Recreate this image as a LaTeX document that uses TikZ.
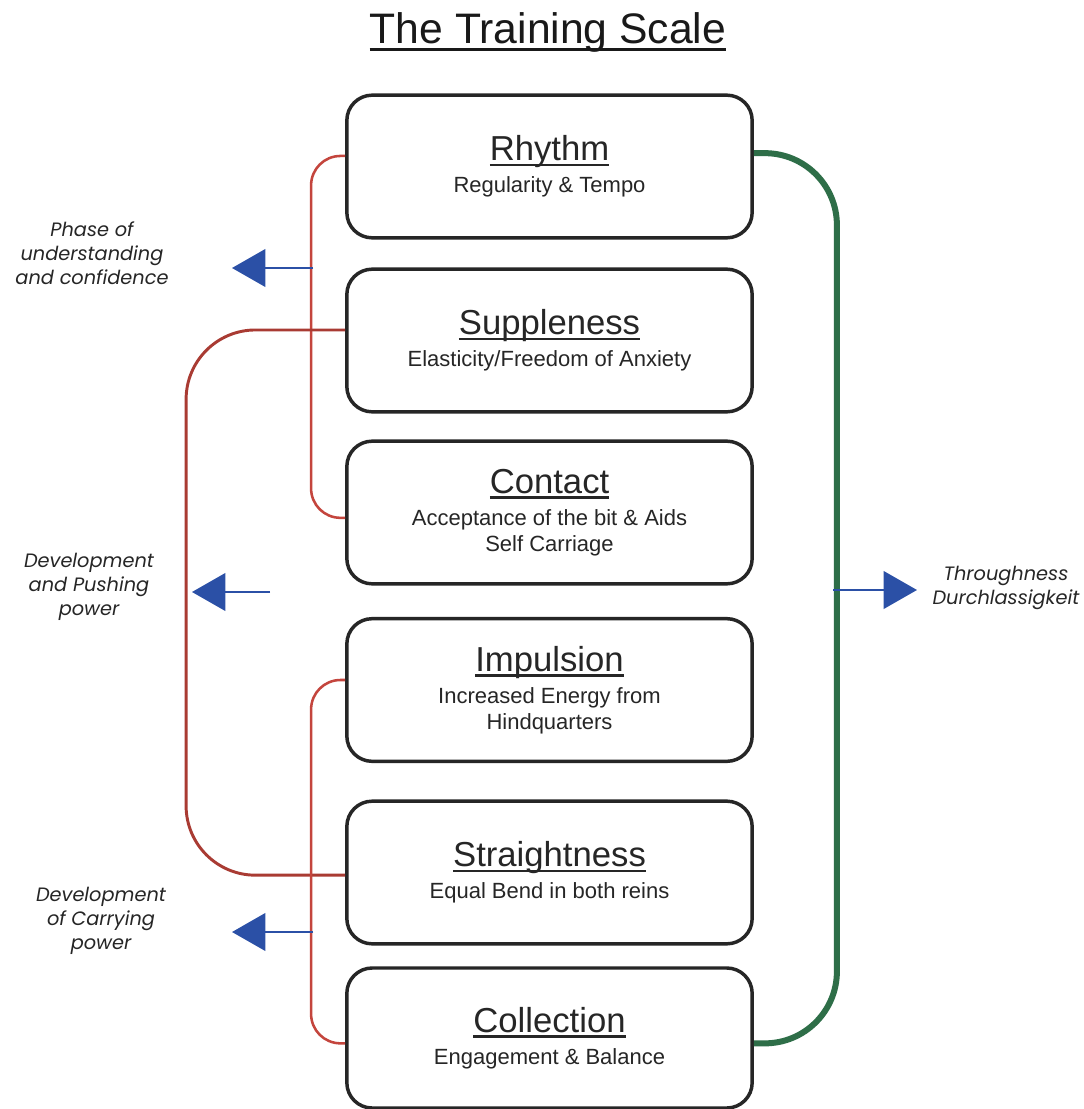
\documentclass[tikz,border=0pt]{standalone}
\usepackage{fontspec}
\setmainfont{Liberation Sans}
\newfontfamily\sidefont{Poppins}
\usetikzlibrary{arrows.meta}
\usetikzlibrary{calc}
\definecolor{boxred}{HTML}{C4453D}
\definecolor{darkred}{HTML}{A93B33}
\definecolor{arrowblue}{HTML}{2B50A6}
\definecolor{scalegreen}{HTML}{2E6E48}
\newcommand\hdline[1]{\setbox0\hbox{#1}\rlap{\rule[-0.155em]{\wd0}{0.065em}}\box0}
\newcommand\stephead[1]{{\fontsize{26}{24}\selectfont\hdline{#1}}\\[4.5pt]}

\begin{document}
\begin{tikzpicture}[x=0.75pt,y=-0.75pt,
  stepbox/.style={draw=black!85,line width=2.6pt,rounded corners=19pt,minimum width=304pt,minimum height=107pt,inner sep=0pt,align=center,font=\fontsize{16.5}{19.5}\selectfont,text=black!85},
  sidelabel/.style={align=center,font=\sidefont\itshape\fontsize{14.5}{18}\selectfont,text=black!85},
  bracket/.style={boxred,line width=1.9pt,rounded corners=22pt},
  bluearrow/.style={arrowblue,line width=2.2pt,-{Triangle[length=25pt,width=28pt]}}]
\path[fill=white,use as bounding box] (0,0) rectangle (1084,1109);

\node[font=\fontsize{32}{36}\selectfont,text=black!90,anchor=base] (title) at (548,44) {\hdline{The Training Scale}};

\node[stepbox] (rhythm) at (549.5,166.5) {\stephead{Rhythm}Regularity \& Tempo};
\node[stepbox] (supple) at (549.5,340.5) {\stephead{Suppleness}Elasticity/Freedom of Anxiety};
\node[stepbox] (contact) at (549.5,512.5) {\stephead{Contact}Acceptance of the bit \& Aids\\Self Carriage};
\node[stepbox] (impulse) at (549.5,690) {\stephead{Impulsion}Increased Energy from\\Hindquarters};
\node[stepbox] (straight) at (549.5,872.5) {\stephead{Straightness}Equal Bend in both reins};
\node[stepbox,minimum height=105pt] (collect) at (549.5,1038) {\stephead{Collection}Engagement \& Balance};

\draw[bracket] ([yshift=7.9pt]rhythm.west) -- ++(-34,0) |- ([yshift=-4pt]contact.west);
\draw[bracket,darkred,line width=2.2pt,rounded corners=52pt] ([yshift=7.9pt]supple.west) -- ++(-159,0) |- ([yshift=-2pt]straight.west);
\draw[bracket] ([yshift=7.5pt]impulse.west) -- ++(-34,0) |- ([yshift=-4pt]collect.west);
\draw[scalegreen,line width=4.5pt,rounded corners=54pt] ([yshift=10pt]rhythm.east) -- ++(83,0) |- ([yshift=-4pt]collect.east);

\coordinate (phase) at (313,268);
\coordinate (phasetip) at (232,268);
\coordinate (push) at (270,592);
\coordinate (pushtip) at (192,592);
\coordinate (carry) at (313,932);
\coordinate (carrytip) at (232,932);
\coordinate (through) at (833,590);
\coordinate (throughtip) at (917,590);
\draw[bluearrow] (phase) -- (phasetip);
\draw[bluearrow] (push) -- (pushtip);
\draw[bluearrow] (carry) -- (carrytip);
\draw[bluearrow] (through) -- (throughtip);

\node[sidelabel] (phaselabel) at (92,253) {Phase of\\understanding\\and confidence};
\node[sidelabel] (pushlabel) at (89,587) {Development\\and Pushing\\power};
\node[sidelabel] (carrylabel) at (101,921) {Development\\of Carrying\\power};
\node[sidelabel] (throughlabel) at (1006,588) {Throughness\\Durchlassigkeit};
\end{tikzpicture}
\end{document}
